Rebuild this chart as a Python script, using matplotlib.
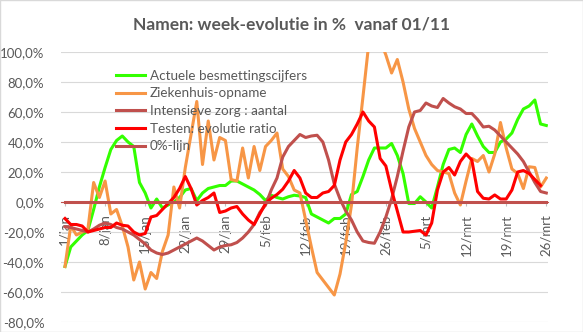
import matplotlib.pyplot as plt
import numpy as np
from matplotlib.patches import Rectangle

plt.rcParams['font.family'] = ['Lato', 'DejaVu Sans']

# dagen vanaf 1 jan 2021
tick_days = [0, 7, 14, 21, 28, 35, 42, 49, 56, 63, 70, 77, 84]
tick_labels = ['1/jan', '8/jan', '15/jan', '22/jan', '29/jan', '5/feb', '12/feb',
               '19/feb', '26/feb', '5/mrt', '12/mrt', '19/mrt', '26/mrt']

besmettingen = [-43, -30, -26, -22, -19, -5, 10, 23, 35, 41, 44, 40, 37, 13, 6, -4, 2, -4, -2, 0,
                3, 8, 9, 1, 6, 9, 10, 11, 11, 14, 14, 12, 10, 8, 5, 1, 4.5, 3, 2, 3.5,
                4.5, 4, 3, -8, -10, -12, -14, -11, -11, -8, 5, 7, 17, 28, 36, 36, 36, 39, 31, 19,
                -1, -1, 3.5, 0, -4, 10, 25, 35, 36, 33, 45, 52, 44, 37, 33, 33, 40, 42, 46, 55,
                62, 64, 68, 52, 51]

ziekenhuis = [-43, -16, -22, -20, -18, 13, 3, 14, -8, -5, -16, -30, -52, -40, -58, -47, -51, -33, -22, 10,
              -4, 23, 45, 67, 25, 54, 28, 43, 41, 15, 14, 36, 16, 37, 21, 37, 41, 46, 22, 17,
              8, 6, -12, -30, -47, -52, -57, -62, -48, -27, -2, 36, 70, 105, 115, 108, 98, 86, 95, 80,
              62, 49, 40, 31, 25, 21, 20, 19, 6, -2, 14, 29, 27, 31, 20, 32, 53, 36, 22, 19,
              9, 23.5, 23, 10, 16]

intensieve_zorg = [-16.5, -17, -18, -19, -20, -18, -15.5, -14, -15, -17, -18, -20, -22, -25, -28, -32, -34, -35, -34, -32,
                   -30, -28, -26, -24, -26, -29, -32, -30, -29, -28.5, -27, -24, -20, -15, -7, -2, 8, 16, 30, 37,
                   41, 45, 43, 44, 44.5, 40, 28, 12, 2, -6, -12, -20, -26, -27, -27.5, -20, -10, 2, 17, 34,
                   50, 60, 61, 66, 64, 63, 69, 66, 63.5, 62, 59, 59, 55, 50, 50.5, 48, 44, 40, 36, 32,
                   27, 20, 13, 7, 6]

testen = [-11, -15, -15, -16, -20, -19, -18, -17, -17, -14, -15.5, -16, -20, -22, -21, -10, -9, -5, -1, 3,
          9, 17, 9, -2, 1, 3, 6, -7, -6, -4, -3, -8, -12, -15, -8, -1, 2.5, 5, 8.5, 14,
          21, 16, 6, 3, 3, 6, 7, 11, 28, 40, 45, 52, 60, 54, 50, 29, 24, 8, -6, -20,
          -20, -19.5, -19, -22, -14, 8, 20, 23, 18, 27, 32, 28, 7, 2.5, 2, 4.7, 2, 2, 8, 20,
          21, 19, 15, 11]

nul_lijn = [0] * 85

yticks = [-80, -60, -40, -20, 0, 20, 40, 60, 80, 100]
ytick_labels = ['-80,0%', '-60,0%', '-40,0%', '-20,0%', '0,0%', '20,0%', '40,0%', '60,0%', '80,0%', '100,0%']

fig = plt.figure(figsize=(5.83, 3.32), dpi=100)
ax = fig.add_axes([0.1046, 0.0301, 0.8354, 0.8133])

lw = 2.2
ax.plot(np.arange(len(besmettingen)), besmettingen, color='#33FF00', lw=lw, label='Actuele besmettingscijfers')
ax.plot(np.arange(len(ziekenhuis)), ziekenhuis, color='#F79646', lw=lw, label='Ziekenhuis-opname')
ax.plot(np.arange(len(intensieve_zorg)), intensieve_zorg, color='#C0504D', lw=lw, label='Intensieve zorg : aantal')
ax.plot(np.arange(len(testen)), testen, color='#FF0000', lw=lw, label='Testen: evolutie ratio')
ax.plot(np.arange(len(nul_lijn)), nul_lijn, color='#C0504D', lw=lw, label='0%-lijn')

ax.set_xlim(-0.7, 84.3)
ax.set_ylim(-80, 100)
ax.set_yticks(yticks)
ax.set_yticklabels(ytick_labels)
ax.set_xticks(tick_days)
ax.set_xticklabels(tick_labels)
ax.grid(axis='y', color='#D9D9D9', lw=0.8)
ax.set_axisbelow(True)

for spine_loc, spine in ax.spines.items():
    if spine_loc == 'bottom':
        spine.set_position(('data', 0))
        spine.set_color('#C0504D')
    else:
        spine.set_visible(False)

ax.tick_params(axis='y', length=0, labelsize=9.5, labelcolor='#595959', pad=12)
ax.tick_params(axis='x', length=3, color='#BFBFBF', labelsize=9.5, labelcolor='#595959',
               pad=6, labelrotation=90)

fig.text(0.5, 0.925, 'Namen: week-evolutie in %  vanaf 01/11', ha='center', va='center',
         fontsize=12.5, fontweight='bold', color='#595959')

fig.legend(loc='upper left', bbox_to_anchor=(109 / 583, 1 - 63 / 332), frameon=False,
           fontsize=9.7, handlelength=2.2, handletextpad=0.35, labelspacing=0.42,
           labelcolor='#595959', borderpad=0)

fig.patches.append(Rectangle((0, 0), 1, 1, transform=fig.transFigure, fill=False,
                             edgecolor='#D9D9D9', lw=1))

fig.savefig('out.png', dpi=100)
